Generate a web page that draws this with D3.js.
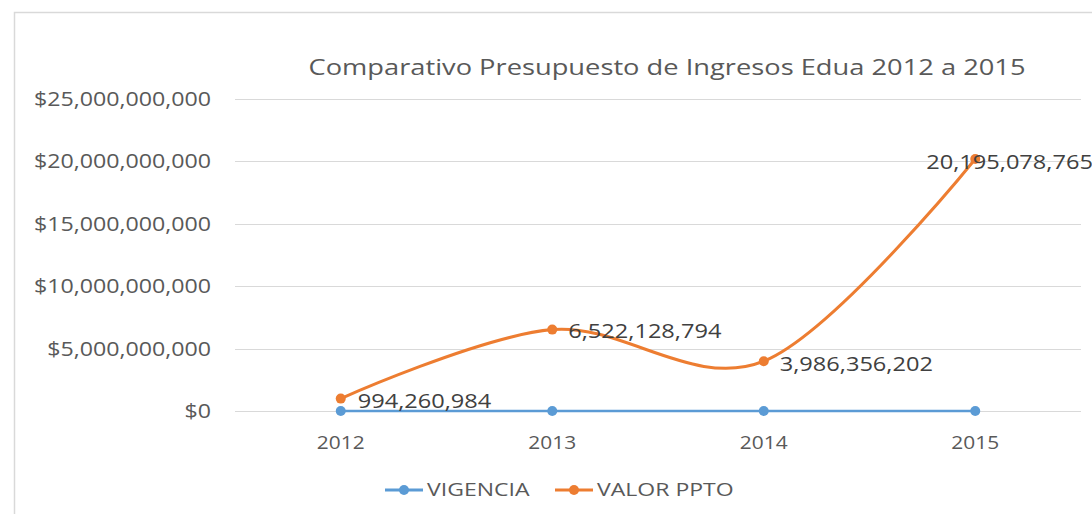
<!DOCTYPE html>
<html>
<head>
<meta charset="utf-8">
<script src="https://cdn.jsdelivr.net/npm/d3@7"></script>
<style>
  body { margin: 0; background: #fff; }
  text { font-family: "Open Sans", "Noto Sans", sans-serif; }
</style>
</head>
<body>
<svg></svg>
<script>
const years = ['2012', '2013', '2014', '2015']
const vigencia = [2012, 2013, 2014, 2015]
const valorPpto = [994260984, 6522128794, 3986356202, 20195078765]
const yTicks = [0, 5000000000, 10000000000, 15000000000, 20000000000, 25000000000]
const seriesNames = ['VIGENCIA', 'VALOR PPTO']

let svgWidth = 1092
let svgHeight = 514
let margin = { left: 235, right: 11, top: 99, bottom: 103 }

let svg = d3.select('svg')
    .attr('width', svgWidth)
    .attr('height', svgHeight)

// the original text is a bit wide, so stretch it horizontally
function place(px, py, sx) {
    return 'translate(' + px + ',' + py + ') scale(' + sx + ',1)'
}

// chart border
svg.append('rect')
    .attr('x', 14.5)
    .attr('y', 12.5)
    .attr('width', svgWidth + 20)
    .attr('height', svgHeight + 20)
    .attr('fill', 'none')
    .attr('stroke', '#d9d9d9')
    .attr('stroke-width', 1.5)

let x = d3.scaleBand()
    .domain(years)
    .range([margin.left, svgWidth - margin.right])

let y = d3.scaleLinear()
    .domain([0, 25000000000])
    .range([svgHeight - margin.bottom, margin.top])

// grid lines
svg.selectAll('.grid')
    .data(yTicks)
    .enter()
    .append('line')
    .attr('x1', margin.left)
    .attr('x2', svgWidth - margin.right)
    .attr('y1', d => Math.round(y(d)) + 0.5)
    .attr('y2', d => Math.round(y(d)) + 0.5)
    .attr('stroke', '#d9d9d9')
    .attr('stroke-width', 1)

// y tick labels
let fmt = d3.format(',')
svg.selectAll('.ylab')
    .data(yTicks)
    .enter()
    .append('text')
    .attr('transform', d => place(211, y(d), 1.16))
    .attr('dy', '0.35em')
    .attr('text-anchor', 'end')
    .attr('font-size', 20)
    .attr('fill', '#595959')
    .text(d => '$' + fmt(d))

// x tick labels
svg.selectAll('.xlab')
    .data(years)
    .enter()
    .append('text')
    .attr('transform', d => place(x(d) + x.bandwidth() / 2, 442, 1.1))
    .attr('dy', '0.35em')
    .attr('text-anchor', 'middle')
    .attr('font-size', 19)
    .attr('fill', '#595959')
    .text(d => d)

// title
svg.append('text')
    .attr('transform', place(667, 67, 1.24))
    .attr('dy', '0.35em')
    .attr('text-anchor', 'middle')
    .attr('font-size', 22)
    .attr('fill', '#595959')
    .text('Comparativo Presupuesto de Ingresos Edua 2012 a 2015')

let cx = (d, i) => x(years[i]) + x.bandwidth() / 2

// blue series
let blueLine = d3.line()
    .x((d, i) => cx(d, i))
    .y(d => y(d))

svg.append('path')
    .attr('d', blueLine(vigencia))
    .attr('fill', 'none')
    .attr('stroke', '#5b9bd5')
    .attr('stroke-width', 2.5)

svg.selectAll('.bdot')
    .data(vigencia)
    .enter()
    .append('circle')
    .attr('cx', cx)
    .attr('cy', d => y(d))
    .attr('r', 5)
    .attr('fill', '#5b9bd5')

// orange series (smoothed)
let orangeLine = d3.line()
    .x((d, i) => cx(d, i))
    .y(d => y(d))
    .curve(d3.curveCardinal.tension(0))

svg.append('path')
    .attr('d', orangeLine(valorPpto))
    .attr('fill', 'none')
    .attr('stroke', '#ed7d31')
    .attr('stroke-width', 3)

svg.selectAll('.odot')
    .data(valorPpto)
    .enter()
    .append('circle')
    .attr('cx', cx)
    .attr('cy', d => y(d))
    .attr('r', 5)
    .attr('fill', '#ed7d31')

// data labels
let labelShift = [[17, 2], [16, 1], [16, 3], [-49, 3]]
svg.selectAll('.dlab')
    .data(valorPpto)
    .enter()
    .append('text')
    .attr('transform', (d, i) => place(cx(d, i) + labelShift[i][0], y(d) + labelShift[i][1], 1.18))
    .attr('dy', '0.35em')
    .attr('font-size', 20)
    .attr('fill', '#404040')
    .text(d => fmt(d))

// legend
let legendColors = ['#5b9bd5', '#ed7d31']
let legendX = [385, 555]
let legend = svg.selectAll('.legend')
    .data(seriesNames)
    .enter()
    .append('g')
    .attr('transform', (d, i) => 'translate(' + legendX[i] + ',490)')

legend.append('line')
    .attr('x1', 0)
    .attr('x2', 38)
    .attr('stroke', (d, i) => legendColors[i])
    .attr('stroke-width', 3)

legend.append('circle')
    .attr('cx', 19)
    .attr('r', 5)
    .attr('fill', (d, i) => legendColors[i])

legend.append('text')
    .attr('transform', place(42, 0, 1.28))
    .attr('dy', '0.35em')
    .attr('font-size', 18)
    .attr('fill', '#595959')
    .text(d => d)
</script>
</body>
</html>
